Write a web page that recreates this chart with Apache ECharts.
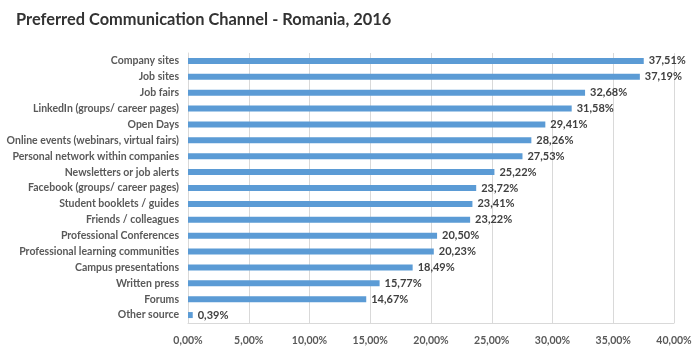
<!DOCTYPE html>
<html><head><meta charset="utf-8">
<script src="https://cdn.jsdelivr.net/npm/echarts@6/dist/echarts.min.js"></script>
<style>html,body{margin:0;padding:0;background:#fff}#c{width:700px;height:360px}</style>
</head><body><div id="c"></div>
<script>
const categories = ["Company sites","Job sites","Job fairs","LinkedIn (groups/ career pages)","Open Days","Online events (webinars, virtual fairs)","Personal network within companies","Newsletters or job alerts","Facebook (groups/ career pages)","Student booklets / guides","Friends / colleagues","Professional Conferences","Professional learning communities","Campus presentations","Written press","Forums","Other source"];
const values = [37.51,37.19,32.68,31.58,29.41,28.26,27.53,25.22,23.72,23.41,23.22,20.50,20.23,18.49,15.77,14.67,0.39];
const titleText = "Preferred Communication Channel - Romania, 2016";
const fmt = v => v.toFixed(2).replace('.', ',') + '%';
const chart = echarts.init(document.getElementById('c'));
chart.setOption({
  animation:false,
  title:{text:titleText,left:11,top:7,textStyle:{fontFamily:'Lato',fontWeight:'bold',fontSize:16.4,color:'#333333'}},
  grid:{left:188,right:26,top:53,bottom:37,containLabel:false},
  xAxis:{type:'value',min:0,max:40,interval:5,
    axisLabel:{formatter:fmt,fontFamily:'Lato',fontWeight:'bold',fontSize:10.5,color:'#595959',margin:12},
    axisLine:{show:true,lineStyle:{color:'#d9d9d9'}},axisTick:{show:false},
    splitLine:{show:true,lineStyle:{color:'#d9d9d9',width:1}}},
  yAxis:{type:'category',inverse:true,data:categories,
    axisLabel:{fontFamily:'Lato',fontWeight:'bold',fontSize:10.5,color:'#595959',margin:9},
    axisLine:{show:true,lineStyle:{color:'#d9d9d9'}},axisTick:{show:false}},
  series:[{type:'bar',data:values,barWidth:6,itemStyle:{color:'#5b9bd5'},
    label:{show:true,position:'right',distance:5,formatter:p=>fmt(p.value),fontFamily:'Lato',fontWeight:'bold',fontSize:11,color:'#404040'}}]
});
</script></body></html>
